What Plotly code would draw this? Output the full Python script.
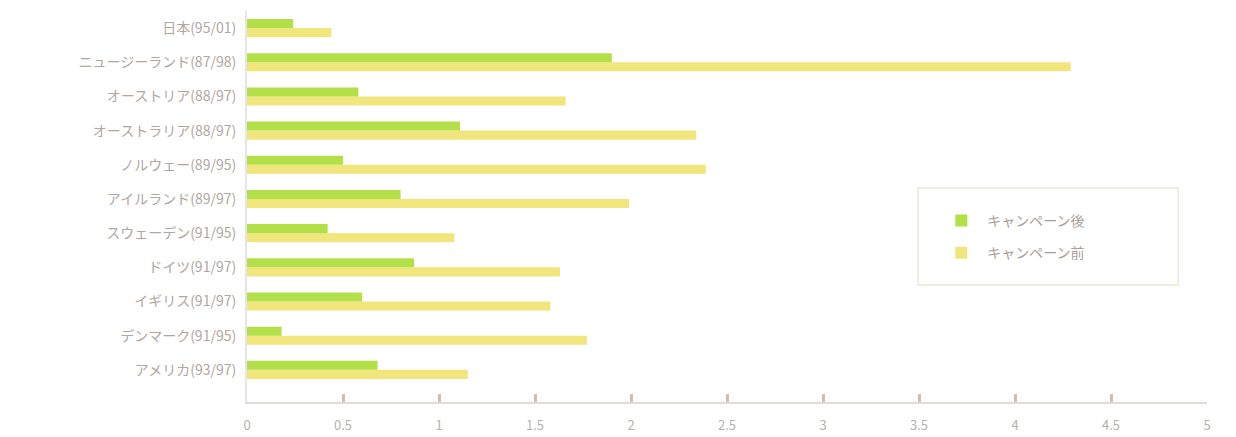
import plotly.graph_objects as go

categories = ["アメリカ(93/97)", "デンマーク(91/95)", "イギリス(91/97)", "ドイツ(91/97)",
              "スウェーデン(91/95)", "アイルランド(89/97)", "ノルウェー(89/95)",
              "オーストラリア(88/97)", "オーストリア(88/97)", "ニュージーランド(87/98)", "日本(95/01)"]
before_vals = [1.15, 1.77, 1.58, 1.63, 1.08, 1.99, 2.39, 2.34, 1.66, 4.29, 0.44]
after_vals = [0.68, 0.18, 0.60, 0.87, 0.42, 0.80, 0.50, 1.11, 0.58, 1.90, 0.24]
tick_vals = [0, 0.5, 1, 1.5, 2, 2.5, 3, 3.5, 4, 4.5, 5]
tick_text = ["0", "0.5", "1", "1.5", "2", "2.5", "3", "3.5", "4", "4.5", "5"]

fig = go.Figure()
fig.add_trace(go.Bar(y=categories, x=before_vals, orientation="h", name="キャンペーン前",
                     legendgroup="b", legendrank=2,
                     marker=dict(color="#f0e67c", line=dict(width=0))))
fig.add_trace(go.Bar(y=categories, x=after_vals, orientation="h", name="キャンペーン後",
                     legendgroup="a", legendrank=1,
                     marker=dict(color="#b3e048", line=dict(width=0))))

fig.update_layout(
    width=1236, height=437,
    margin=dict(l=239, r=37, t=3, b=43, autoexpand=False),
    paper_bgcolor="white", plot_bgcolor="white",
    barmode="group", bargap=0.47, bargroupgap=0,
    font=dict(family="Noto Sans CJK JP", color="#b0a79f"),
    legend=dict(x=0.717, y=0.504, xanchor="left", yanchor="top",
                traceorder="grouped", font=dict(size=14, color="#a8a09a"),
                bgcolor="rgba(0,0,0,0)", borderwidth=0, itemwidth=42,
                tracegroupgap=11),
    showlegend=True,
)
fig.add_shape(type="rect", xref="paper", yref="paper",
              x0=0.699, x1=0.970, y0=0.299, y1=0.547,
              line=dict(color="#ece8d8", width=1.5), fillcolor="rgba(0,0,0,0)", layer="below")
fig.update_xaxes(range=[0, 5], tickvals=tick_vals, ticktext=tick_text,
                 showgrid=False, zeroline=False, showline=True, linecolor="#e0dcd8", linewidth=2,
                 ticks="inside", ticklen=8, tickwidth=3, tickcolor="#cbbfae",
                 tickfont=dict(size=13, color="#b8b0aa"), ticklabelstandoff=10)
fig.update_yaxes(range=[-0.94, 10.5], showgrid=False, zeroline=False,
                 showline=True, linecolor="#e4e4ec", linewidth=2,
                 ticks="", tickfont=dict(size=14, color="#b0a79f"), ticklabelstandoff=6)

fig.write_html("out.html")
